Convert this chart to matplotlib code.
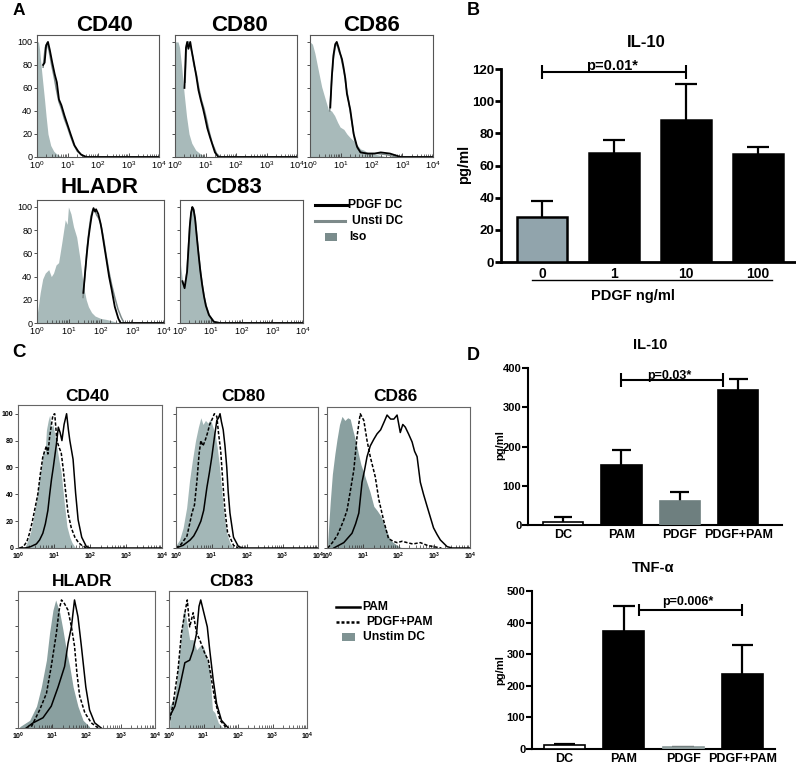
import numpy as np
import matplotlib
matplotlib.use("Agg")
import matplotlib.pyplot as plt
from matplotlib.ticker import LogLocator, NullFormatter

plt.rcParams['font.family'] = ['Liberation Sans', 'DejaVu Sans']
plt.rcParams['mathtext.fontset'] = 'custom'
plt.rcParams['mathtext.rm'] = 'Liberation Sans'
plt.rcParams['mathtext.it'] = 'Liberation Sans'
plt.rcParams['mathtext.sf'] = 'Liberation Sans'
plt.rcParams['mathtext.bf'] = 'Liberation Sans:bold'
plt.rcParams['mathtext.default'] = 'rm'

# ---------------- DATA ----------------
# Panel A histograms (x in log10 decades, y = % of max)
A_CD40_iso_x = [0, 0.05, 0.09, 0.15, 0.2, 0.25, 0.3, 0.36, 0.45, 0.55, 0.63, 0.75, 0.85]
A_CD40_iso_y = [100, 100, 92, 75, 62, 49, 35, 20, 10, 5, 3, 1, 0]
A_CD40_pdgf_x = [0.2, 0.25, 0.3, 0.36, 0.42, 0.5, 0.58, 0.65, 0.72, 0.8, 0.9, 1.0, 1.1, 1.23, 1.35, 1.45, 1.62, 4.0]
A_CD40_pdgf_y = [80, 82, 97, 100, 93, 82, 72, 65, 50, 45, 36, 28, 20, 10, 5, 2, 0, 0]
A_CD40_unsti_x = [0.2, 0.27, 0.33, 0.4, 0.48, 0.56, 0.64, 0.72, 0.8, 0.9, 1.0, 1.1, 1.2, 1.32, 1.45, 1.6, 4.0]
A_CD40_unsti_y = [78, 95, 99, 92, 80, 70, 58, 48, 42, 33, 26, 18, 11, 5, 2, 0, 0]

A_CD80_iso_x = [0, 0.1, 0.15, 0.22, 0.3, 0.38, 0.46, 0.55, 0.68, 0.82, 1.0]
A_CD80_iso_y = [100, 100, 95, 78, 55, 35, 20, 12, 6, 3, 0]
A_CD80_pdgf_x = [0.31, 0.36, 0.4, 0.44, 0.5, 0.55, 0.62, 0.7, 0.77, 0.85, 0.92, 0.98, 1.06, 1.15, 1.31, 1.42, 4.0]
A_CD80_pdgf_y = [60, 95, 100, 94, 100, 92, 82, 70, 58, 49, 42, 35, 25, 17, 4, 0, 0]
A_CD80_unsti_x = [0.33, 0.38, 0.44, 0.5, 0.56, 0.62, 0.7, 0.78, 0.86, 0.95, 1.03, 1.12, 1.22, 1.36, 1.48, 4.0]
A_CD80_unsti_y = [65, 97, 100, 97, 90, 80, 72, 60, 50, 42, 33, 22, 12, 3, 0, 0]

A_CD86_iso_x = [0, 0.08, 0.16, 0.25, 0.38, 0.5, 0.6, 0.7, 0.8, 0.9, 0.98, 1.1, 1.2, 1.3, 1.42, 1.55, 1.64, 1.75, 1.86, 2.0, 2.19, 2.5]
A_CD86_iso_y = [100, 98, 90, 78, 61, 50, 41, 40, 36, 30, 26, 24, 20, 17, 14, 10, 7, 6, 4, 3, 2, 0]
A_CD86_pdgf_x = [0.66, 0.71, 0.76, 0.82, 0.87, 0.93, 0.98, 1.04, 1.09, 1.15, 1.2, 1.31, 1.42, 1.53, 1.64, 1.86, 2.1, 2.3, 2.6, 2.95, 4.0]
A_CD86_pdgf_y = [43, 70, 88, 98, 100, 95, 90, 85, 78, 68, 55, 41, 20, 9, 4, 3, 3, 4, 3, 0, 0]
A_CD86_unsti_x = [0.64, 0.7, 0.76, 0.82, 0.88, 0.94, 1.0, 1.06, 1.12, 1.18, 1.26, 1.35, 1.45, 1.55, 1.7, 1.9, 2.2, 2.5, 2.8, 4.0]
A_CD86_unsti_y = [40, 65, 85, 96, 98, 92, 88, 80, 72, 60, 48, 32, 15, 7, 4, 3, 3, 2, 0, 0]

A_HLADR_iso_x = [0, 0.1, 0.18, 0.26, 0.37, 0.45, 0.52, 0.6, 0.68, 0.78, 0.89, 0.95, 0.99, 1.07, 1.15, 1.25, 1.36, 1.46, 1.55, 1.62, 1.72, 1.83, 2.0, 2.2, 2.6]
A_HLADR_iso_y = [6, 26, 38, 43, 46, 40, 43, 50, 52, 69, 89, 85, 100, 94, 83, 74, 54, 32, 20, 14, 9, 6, 4, 3, 0]
A_HLADR_pdgf_x = [1.46, 1.52, 1.57, 1.62, 1.67, 1.72, 1.78, 1.83, 1.86, 1.93, 2.0, 2.04, 2.12, 2.19, 2.27, 2.35, 2.45, 2.56, 2.63, 4.0]
A_HLADR_pdgf_y = [26, 45, 60, 73, 83, 92, 99, 96, 98, 94, 86, 80, 66, 54, 40, 29, 14, 4, 0, 0]
A_HLADR_unsti_x = [1.45, 1.52, 1.58, 1.64, 1.7, 1.76, 1.82, 1.88, 1.95, 2.02, 2.1, 2.18, 2.26, 2.35, 2.45, 2.55, 2.65, 2.74, 4.0]
A_HLADR_unsti_y = [22, 45, 65, 80, 92, 98, 97, 93, 90, 84, 72, 58, 45, 33, 22, 12, 5, 0, 0]

A_CD83_iso_x = [0, 0.04, 0.08, 0.15, 0.23, 0.28, 0.32, 0.36, 0.4, 0.44, 0.48, 0.53, 0.59, 0.65, 0.7, 0.76, 0.81, 0.92, 1.08, 1.3]
A_CD83_iso_y = [54, 45, 37, 30, 43, 65, 83, 95, 100, 97, 91, 76, 60, 46, 34, 24, 17, 7, 1, 0]
A_CD83_pdgf_x = [0.08, 0.15, 0.23, 0.28, 0.32, 0.36, 0.4, 0.44, 0.49, 0.54, 0.6, 0.66, 0.72, 0.78, 0.84, 0.94, 1.1, 1.3, 4.0]
A_CD83_pdgf_y = [36, 30, 44, 66, 84, 95, 100, 98, 90, 76, 60, 45, 33, 23, 15, 7, 1, 0, 0]
A_CD83_unsti_x = [0.08, 0.15, 0.23, 0.28, 0.32, 0.37, 0.41, 0.45, 0.5, 0.55, 0.61, 0.67, 0.73, 0.79, 0.86, 0.96, 1.12, 1.32, 4.0]
A_CD83_unsti_y = [35, 31, 45, 68, 85, 96, 99, 97, 88, 74, 58, 44, 32, 22, 14, 6, 1, 0, 0]

# Panel C histograms
C_CD40_fill_x = [0.1, 0.2, 0.28, 0.35, 0.42, 0.51, 0.6, 0.65, 0.7, 0.75, 0.79, 0.84, 0.88, 0.92, 0.97, 1.02, 1.08, 1.14, 1.2, 1.28, 1.36, 1.44, 1.5, 1.6]
C_CD40_fill_y = [0, 1, 6, 12, 21, 36, 53, 61, 73, 70, 88, 95, 99, 90, 92, 85, 75, 65, 56, 35, 16, 8, 4, 0]
C_CD40_dash_x = [0.05, 0.15, 0.25, 0.32, 0.4, 0.46, 0.55, 0.62, 0.69, 0.74, 0.79, 0.83, 0.88, 0.93, 0.97, 1.02, 1.08, 1.14, 1.2, 1.26, 1.31, 1.39, 1.48, 1.58, 1.68, 1.77, 1.9]
C_CD40_dash_y = [0, 1, 5, 11, 20, 28, 40, 55, 68, 72, 76, 70, 83, 92, 99, 100, 80, 75, 71, 58, 45, 26, 15, 8, 4, 2, 0]
C_CD40_pam_x = [0.0, 0.2, 0.35, 0.51, 0.6, 0.69, 0.76, 0.83, 0.88, 0.93, 0.98, 1.02, 1.07, 1.12, 1.17, 1.22, 1.28, 1.35, 1.4, 1.44, 1.53, 1.6, 1.67, 1.77, 1.9, 2.0, 4.0]
C_CD40_pam_y = [0, 0, 1, 3, 6, 11, 18, 28, 40, 51, 60, 68, 78, 90, 86, 80, 92, 100, 88, 80, 66, 41, 21, 8, 1, 0, 0]

C_CD80_fill_x = [0.0, 0.1, 0.2, 0.3, 0.38, 0.46, 0.55, 0.63, 0.7, 0.76, 0.83, 0.9, 0.97, 1.04, 1.1, 1.16, 1.22, 1.28, 1.33, 1.38, 1.43, 1.52, 1.62]
C_CD80_fill_y = [2, 6, 15, 30, 50, 65, 80, 90, 97, 92, 95, 93, 96, 90, 85, 75, 62, 45, 31, 20, 11, 4, 0]
C_CD80_dash_x = [0.0, 0.15, 0.31, 0.45, 0.52, 0.59, 0.65, 0.7, 0.76, 0.82, 0.88, 0.95, 1.02, 1.08, 1.15, 1.2, 1.26, 1.33, 1.38, 1.45, 1.52, 1.62, 1.75]
C_CD80_dash_y = [0, 3, 9, 26, 32, 50, 70, 80, 76, 80, 85, 92, 96, 100, 98, 85, 72, 45, 28, 12, 8, 2, 0]
C_CD80_pam_x = [0.0, 0.2, 0.4, 0.5, 0.6, 0.7, 0.78, 0.87, 0.94, 1.01, 1.08, 1.15, 1.2, 1.24, 1.28, 1.33, 1.38, 1.43, 1.47, 1.52, 1.62, 1.76, 1.9, 4.0]
C_CD80_pam_y = [0, 2, 6, 9, 14, 20, 28, 45, 56, 68, 82, 95, 97, 100, 94, 88, 76, 60, 42, 26, 8, 1, 0, 0]

C_CD86_fill_x = [0.02, 0.09, 0.15, 0.22, 0.28, 0.35, 0.42, 0.5, 0.58, 0.65, 0.72, 0.8, 0.88, 0.95, 1.03, 1.1, 1.2, 1.31, 1.4, 1.5, 1.58, 1.68, 1.77, 1.86, 1.96, 2.1]
C_CD86_fill_y = [5, 34, 55, 70, 81, 92, 98, 95, 97, 96, 88, 80, 70, 62, 56, 50, 42, 31, 28, 24, 19, 12, 6, 4, 2, 0]
C_CD86_dash_x = [0.02, 0.15, 0.28, 0.38, 0.47, 0.56, 0.65, 0.75, 0.84, 0.93, 1.03, 1.12, 1.21, 1.35, 1.45, 1.58, 1.72, 1.85, 1.96, 2.1, 2.24, 2.4, 2.61, 2.8, 2.98, 3.2]
C_CD86_dash_y = [0, 4, 9, 15, 21, 28, 42, 58, 83, 100, 95, 80, 68, 53, 36, 21, 7, 5, 4, 5, 4, 3, 4, 2, 1, 0]
C_CD86_pam_x = [0.19, 0.47, 0.7, 0.8, 0.89, 0.98, 1.05, 1.12, 1.21, 1.31, 1.4, 1.5, 1.6, 1.68, 1.78, 1.87, 1.96, 2.05, 2.12, 2.19, 2.28, 2.38, 2.45, 2.52, 2.61, 2.7, 2.8, 2.89, 2.98, 3.08, 3.17, 3.36, 3.5, 4.0]
C_CD86_pam_y = [0, 4, 11, 18, 26, 49, 58, 68, 76, 81, 85, 88, 94, 99, 96, 96, 99, 86, 92, 90, 85, 79, 72, 68, 49, 40, 31, 23, 15, 10, 6, 1, 0, 0]

C_HLADR_fill_x = [0.05, 0.34, 0.54, 0.68, 0.83, 0.92, 1.02, 1.1, 1.22, 1.31, 1.41, 1.51, 1.61, 1.75, 1.9, 2.09]
C_HLADR_fill_y = [1, 6, 17, 32, 53, 74, 92, 100, 90, 77, 61, 48, 32, 17, 6, 1]
C_HLADR_dash_x = [0.39, 0.63, 0.83, 0.97, 1.12, 1.2, 1.27, 1.36, 1.46, 1.56, 1.65, 1.72, 1.8, 1.95, 2.14, 2.34]
C_HLADR_dash_y = [1, 14, 27, 48, 74, 92, 100, 97, 92, 79, 64, 43, 25, 12, 4, 0]
C_HLADR_pam_x = [0.24, 0.44, 0.73, 0.97, 1.17, 1.36, 1.46, 1.56, 1.65, 1.75, 1.85, 1.98, 2.09, 2.24, 2.43]
C_HLADR_pam_y = [0, 4, 8, 17, 32, 48, 66, 79, 100, 87, 64, 32, 14, 4, 0]

C_CD83_fill_x = [0.02, 0.17, 0.31, 0.41, 0.46, 0.52, 0.6, 0.7, 0.8, 0.89, 0.99, 1.09, 1.18, 1.26, 1.33, 1.43, 1.57]
C_CD83_fill_y = [17, 25, 61, 90, 92, 82, 69, 69, 61, 64, 64, 56, 45, 14, 12, 4, 0]
C_CD83_dash_x = [0.02, 0.12, 0.26, 0.36, 0.46, 0.53, 0.6, 0.7, 0.8, 0.89, 1.04, 1.14, 1.23, 1.33, 1.48, 1.67]
C_CD83_dash_y = [6, 19, 45, 74, 90, 100, 79, 90, 74, 69, 58, 53, 38, 22, 6, 0]
C_CD83_pam_x = [0.02, 0.17, 0.31, 0.46, 0.6, 0.7, 0.8, 0.87, 0.92, 1.01, 1.11, 1.18, 1.28, 1.38, 1.52, 1.72]
C_CD83_pam_y = [9, 17, 32, 51, 53, 61, 74, 95, 100, 90, 79, 61, 38, 19, 6, 0]

# Panel B
B_categories = ['0', '1', '10', '100']
B_values = [28, 68, 88.5, 67]
B_err_top = [38, 76, 110.5, 71.5]

# Panel D
D_categories = ['DC', 'PAM', 'PDGF', 'PDGF+PAM']
D_il10_values = [8.5, 153, 62, 344]
D_il10_err_top = [20, 190, 83, 372]
D_tnf_values = [14, 375, 5, 236]
D_tnf_err_top = [17, 453, 7, 330]

# ---------------- FIGURE ----------------
W, H = 796, 766
fig = plt.figure(figsize=(W / 100, H / 100), dpi=100)


def px_axes(x0, y0, x1, y1):
    return fig.add_axes([x0 / W, 1 - y1 / H, (x1 - x0) / W, (y1 - y0) / H])


def ftext(x, y, s, **kw):
    fig.text(x / W, 1 - y / H, s, **kw)


def histo(rect, fill, fill_color, lines, show_y, bold, tick_fs, ytop, frame_color):
    ax = px_axes(*rect)
    ax.set_xscale('log')
    ax.set_xlim(1, 1e4)
    ax.set_ylim(0, ytop)
    fx, fy = fill
    ax.fill_between(np.power(10.0, fx), fy, 0, color=fill_color, lw=0, zorder=1)
    for lx, ly, kw in lines:
        ax.plot(np.power(10.0, lx), ly, zorder=2, **kw)
    for s in ax.spines.values():
        s.set_color(frame_color)
        s.set_linewidth(0.8)
    ax.set_xticks([1, 10, 100, 1000, 10000])
    if bold:
        labels = [r'$\mathbf{10^{%d}}$' % i for i in range(5)]
    else:
        labels = [r'$10^{%d}$' % i for i in range(5)]
    ax.set_xticklabels(labels, fontsize=tick_fs)
    ax.xaxis.set_minor_locator(LogLocator(base=10, subs=np.arange(2, 10), numticks=20))
    ax.xaxis.set_minor_formatter(NullFormatter())
    ax.tick_params(axis='x', which='major', direction='in', length=3, width=0.6, pad=2, colors='#333333', labelcolor='black')
    ax.tick_params(axis='x', which='minor', direction='in', length=2, width=0.5, colors='#333333')
    ax.set_yticks([0, 20, 40, 60, 80, 100])
    ax.tick_params(axis='y', direction='out', length=2.5, width=0.6, pad=1, colors='#333333', labelcolor='black')
    if show_y:
        ax.set_yticklabels(['0', '20', '40', '60', '80', '100'], fontsize=tick_fs,
                           fontweight='bold' if bold else 'normal')
    else:
        ax.set_yticklabels([])
    return ax


blk = dict(color='black', lw=1.3)
gry = dict(color='#7d8a8a', lw=1.1)
A_fill = '#a8baba'
A_frame = '#555555'

# Panel A
histo((37, 35, 159, 157), (A_CD40_iso_x, A_CD40_iso_y), A_fill,
      [(A_CD40_unsti_x, A_CD40_unsti_y, gry), (A_CD40_pdgf_x, A_CD40_pdgf_y, blk)],
      True, False, 6.5, 106, A_frame)
histo((175, 35, 297, 157), (A_CD80_iso_x, A_CD80_iso_y), A_fill,
      [(A_CD80_unsti_x, A_CD80_unsti_y, gry), (A_CD80_pdgf_x, A_CD80_pdgf_y, blk)],
      False, False, 6.5, 106, A_frame)
histo((310, 35, 433, 157), (A_CD86_iso_x, A_CD86_iso_y), A_fill,
      [(A_CD86_unsti_x, A_CD86_unsti_y, gry), (A_CD86_pdgf_x, A_CD86_pdgf_y, blk)],
      False, False, 6.5, 106, A_frame)
histo((37, 200, 164, 323), (A_HLADR_iso_x, A_HLADR_iso_y), A_fill,
      [(A_HLADR_unsti_x, A_HLADR_unsti_y, gry), (A_HLADR_pdgf_x, A_HLADR_pdgf_y, blk)],
      True, False, 6.5, 106, A_frame)
histo((180, 200, 303, 323), (A_CD83_iso_x, A_CD83_iso_y), A_fill,
      [(A_CD83_unsti_x, A_CD83_unsti_y, gry), (A_CD83_pdgf_x, A_CD83_pdgf_y, blk)],
      False, False, 6.5, 106, A_frame)

tkw = dict(fontsize=16, fontweight='bold', ha='center', va='baseline')
ftext(104, 31, 'CD40', **tkw)
ftext(240, 31, 'CD80', **tkw)
ftext(372, 31, 'CD86', **tkw)
ftext(99, 193, 'HLADR', **tkw)
ftext(233, 193, 'CD83', **tkw)

# Legend A
lfig = fig.add_axes([0, 0, 1, 1], facecolor='none')
lfig.set_xlim(0, W)
lfig.set_ylim(H, 0)
lfig.axis('off')
lfig.plot([315, 347], [205, 205], color='black', lw=2.2)
lfig.plot([315, 345], [221, 221], color='#7d8a8a', lw=2.2)
lfig.add_patch(plt.Rectangle((325, 233), 12, 8, color='#7a8c8c', lw=0))
lkw = dict(fontsize=8.7, fontweight='bold', va='center', ha='left')
lfig.text(348, 205, 'PDGF DC', **lkw)
lfig.text(352, 221, 'Unsti DC', **lkw)
lfig.text(349, 237, 'Iso', **lkw)

# Panel C
C_light = '#a3b7b7'
C_dark = '#8aa0a0'
C_frame = '#666666'
sol = dict(color='black', lw=1.1)
dsh = dict(color='black', lw=1.1, ls=(0, (2.2, 1.2)))
histo((18, 405, 162, 548), (C_CD40_fill_x, C_CD40_fill_y), C_light,
      [(C_CD40_dash_x, C_CD40_dash_y, dsh), (C_CD40_pam_x, C_CD40_pam_y, sol)],
      True, True, 5, 106.5, C_frame)
histo((176, 407, 318, 548), (C_CD80_fill_x, C_CD80_fill_y), C_light,
      [(C_CD80_dash_x, C_CD80_dash_y, dsh), (C_CD80_pam_x, C_CD80_pam_y, sol)],
      False, True, 5, 105, C_frame)
histo((327, 407, 470, 548), (C_CD86_fill_x, C_CD86_fill_y), C_dark,
      [(C_CD86_dash_x, C_CD86_dash_y, dsh), (C_CD86_pam_x, C_CD86_pam_y, sol)],
      False, True, 5, 105, C_frame)
histo((18, 591, 155, 728), (C_HLADR_fill_x, C_HLADR_fill_y), C_dark,
      [(C_HLADR_dash_x, C_HLADR_dash_y, dsh), (C_HLADR_pam_x, C_HLADR_pam_y, sol)],
      False, True, 5, 107, C_frame)
histo((169, 591, 307, 728), (C_CD83_fill_x, C_CD83_fill_y), C_light,
      [(C_CD83_dash_x, C_CD83_dash_y, dsh), (C_CD83_pam_x, C_CD83_pam_y, sol)],
      False, True, 5, 107, C_frame)

ckw = dict(fontsize=12.5, fontweight='bold', ha='center', va='baseline')
ftext(87, 401, 'CD40', **ckw)
ftext(243, 401, 'CD80', **ckw)
ftext(395, 401, 'CD86', **ckw)
ftext(82, 586, 'HLADR', **ckw)
ftext(231, 586, 'CD83', **ckw)

# Legend C
lfig.plot([336, 360], [607, 607], color='black', lw=1.8)
lfig.plot([336, 360], [622, 622], color='black', lw=1.8, ls=(0, (1.2, 0.8)))
lfig.add_patch(plt.Rectangle((342, 633), 13, 8, color='#7f9393', lw=0))
lfig.text(362, 607, 'PAM', **lkw)
lfig.text(366, 622, 'PDGF+PAM', **lkw)
lfig.text(363, 637, 'Unstim DC', **lkw)

# Panel letters
ftext(13, 15, 'A', fontsize=12.5, fontweight='bold', va='baseline')
ftext(467, 15, 'B', fontsize=13, fontweight='bold', va='baseline')
ftext(12, 357, 'C', fontsize=13.5, fontweight='bold', va='baseline')
ftext(467, 360, 'D', fontsize=13, fontweight='bold', va='baseline')


def bar_panel(rect, values, errtop, cats, colors, edges, ewidth, xlim, ylim, yticks,
              ytick_fs, xtick_fs, spine_w, cap_hw, xpad):
    ax = px_axes(*rect)
    x = np.arange(len(values))
    ax.bar(x, values, width=0.69, color=colors, edgecolor=edges, linewidth=ewidth, zorder=3)
    ax.vlines(x, values, errtop, color='black', lw=1.6, zorder=2)
    ax.hlines(errtop, x - cap_hw, x + cap_hw, color='black', lw=1.6, zorder=2)
    ax.set_xlim(*xlim)
    ax.set_ylim(*ylim)
    for side in ['top', 'right']:
        ax.spines[side].set_visible(False)
    for side in ['left', 'bottom']:
        ax.spines[side].set_linewidth(spine_w)
    ax.set_yticks(yticks)
    ax.set_yticklabels([str(v) for v in yticks], fontsize=ytick_fs, fontweight='bold')
    ax.set_xticks(x)
    ax.set_xticklabels(cats, fontsize=xtick_fs, fontweight='bold')
    ax.tick_params(axis='y', length=4, width=spine_w, pad=0.8)
    ax.tick_params(axis='x', length=0, pad=xpad)
    ax.patch.set_alpha(0)
    return ax


# Panel B
axB = bar_panel((501, 69, 796, 262), B_values, B_err_top, B_categories,
                ['#91a4ac', 'black', 'black', 'black'], 'black', 1.8,
                (-0.57, 3.53), (0, 120), [0, 20, 40, 60, 80, 100, 120], 9.5, 10, 2.0, 0.15, 3.5)
axB.hlines(118, 0, 2, color='black', lw=1.5, clip_on=False)
axB.vlines([0, 2], 113.5, 122.5, color='black', lw=1.5, clip_on=False)
axB.text(0.97, 119.5, 'p=0.01*', fontsize=10.5, fontweight='bold', ha='center', va='baseline')
axB.plot([-0.14, 3.19], [-0.093, -0.093], color='black', lw=1,
         transform=axB.get_xaxis_transform(), clip_on=False)
ftext(646, 47, 'IL-10', fontsize=12, fontweight='bold', ha='center', va='baseline')
ftext(464, 164, 'pg/ml', fontsize=10.5, fontweight='bold', ha='center', va='center', rotation=90)
ftext(633, 300, 'PDGF ng/ml', fontsize=10.5, fontweight='bold', ha='center', va='baseline')

# Panel D IL-10
axD1 = bar_panel((528, 368, 782, 525), D_il10_values, D_il10_err_top, D_categories,
                 ['white', 'black', '#6e7f7f', 'black'], ['black', 'black', '#6e7f7f', 'black'], 1.2,
                 (-0.6, 3.75), (0, 400), [0, 100, 200, 300, 400], 8, 9, 1.5, 0.16, 3)
axD1.hlines(369, 0.99, 2.74, color='black', lw=1.5, clip_on=False)
axD1.vlines([0.99, 2.74], 351, 387, color='black', lw=1.5, clip_on=False)
axD1.text(1.82, 372, 'p=0.03*', fontsize=9, fontweight='bold', ha='center', va='baseline')
ftext(650, 349, 'IL-10', fontsize=10.5, fontweight='bold', ha='center', va='baseline')
ftext(500, 445, 'pg/ml', fontsize=8, fontweight='bold', ha='center', va='center', rotation=90)

# Panel D TNF
axD2 = bar_panel((532, 591, 775, 749), D_tnf_values, D_tnf_err_top, D_categories,
                 ['white', 'black', '#a3adad', 'black'], ['black', 'black', '#8a9999', 'black'], 1.2,
                 (-0.55, 3.55), (0, 500), [0, 100, 200, 300, 400, 500], 8, 9, 1.5, 0.18, 3)
axD2.hlines(440, 1.26, 3.0, color='black', lw=1.5, clip_on=False)
axD2.vlines([1.26, 3.0], 420, 460, color='black', lw=1.5, clip_on=False)
axD2.text(2.08, 457, 'p=0.006*', fontsize=9, fontweight='bold', ha='center', va='baseline')
ftext(653, 572, 'TNF-α', fontsize=10.5, fontweight='bold', ha='center', va='baseline')
ftext(500, 670, 'pg/ml', fontsize=8, fontweight='bold', ha='center', va='center', rotation=90)

fig.savefig('out.png', dpi=100)
